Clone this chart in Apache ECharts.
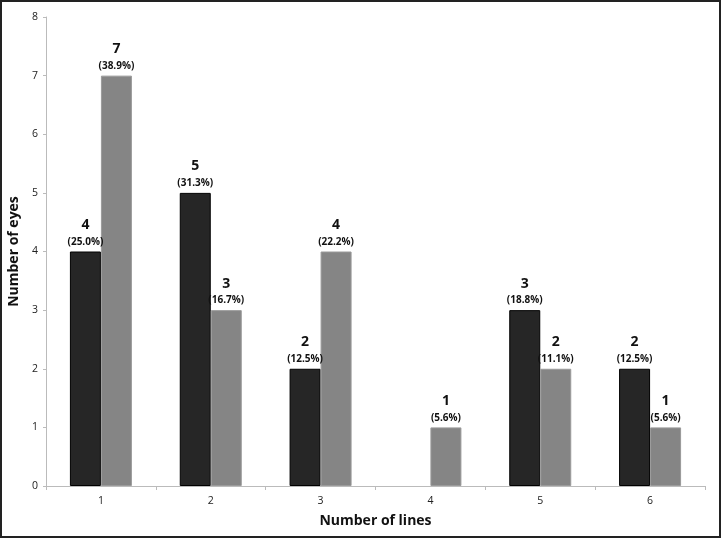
<!DOCTYPE html>
<html><head><meta charset="utf-8">
<script src="https://cdn.jsdelivr.net/npm/echarts@6/dist/echarts.min.js"></script>
<style>html,body{margin:0;padding:0;background:#fff}#c{width:721px;height:538px;box-sizing:border-box;border:2px solid #222}</style>
</head><body><div id="c"></div>
<script>
var categories = ['1','2','3','4','5','6'];
var darkValues = [4,5,2,null,3,2];
var darkPct = ['25.0%','31.3%','12.5%','','18.8%','12.5%'];
var grayValues = [7,3,4,1,2,1];
var grayPct = ['38.9%','16.7%','22.2%','5.6%','11.1%','5.6%'];
var yTicks = [0,1,2,3,4,5,6,7,8];

function mkLabel(pcts){
  return {
    show:true, position:'top', distance:3,
    formatter:function(p){ return '{a|'+p.value+'}\n{b|('+pcts[p.dataIndex]+')}'; },
    rich:{
      a:{fontFamily:'Open Sans',fontWeight:'bold',fontSize:14,color:'#111',lineHeight:21},
      b:{fontFamily:'Open Sans',fontWeight:'bold',fontSize:10,color:'#111',lineHeight:13}
    }
  };
}
var chart = echarts.init(document.getElementById('c'));
chart.setOption({
  animation:false,
  grid:{left:44,right:14,top:15,bottom:50,containLabel:false,outerBoundsMode:'none'},
  xAxis:{type:'category',data:categories,
    name:'Number of lines',nameLocation:'middle',nameGap:28,
    nameTextStyle:{fontFamily:'Open Sans',fontWeight:'bold',fontSize:14,color:'#111'},
    axisLine:{lineStyle:{color:'#bbb'}},
    axisTick:{show:true,alignWithLabel:false,lineStyle:{color:'#bbb'},length:4},
    axisLabel:{fontFamily:'Open Sans',fontSize:10.5,color:'#222',margin:10}},
  yAxis:{type:'value',min:0,max:8,interval:1,
    name:'Number of eyes',nameLocation:'middle',nameGap:20,
    nameTextStyle:{fontFamily:'Open Sans',fontWeight:'bold',fontSize:14,color:'#111'},
    axisLine:{show:true,lineStyle:{color:'#bbb'}},
    axisTick:{show:true,length:3,lineStyle:{color:'#bbb'}},
    splitLine:{show:false},
    axisLabel:{fontFamily:'Open Sans',fontSize:10.5,color:'#222',margin:8,
      formatter:function(v){return yTicks.indexOf(v)>=0?String(v):'';}}},
  series:[
    {type:'bar',data:darkValues,barWidth:31,barGap:'0%',
     itemStyle:{color:'#262626',borderColor:'#000',borderWidth:1},
     label:mkLabel(darkPct)},
    {type:'bar',data:grayValues,barWidth:31,barGap:'0%',
     itemStyle:{color:'#858585',borderColor:'#9a9a9a',borderWidth:1},
     label:mkLabel(grayPct)}
  ]
});
</script></body></html>
